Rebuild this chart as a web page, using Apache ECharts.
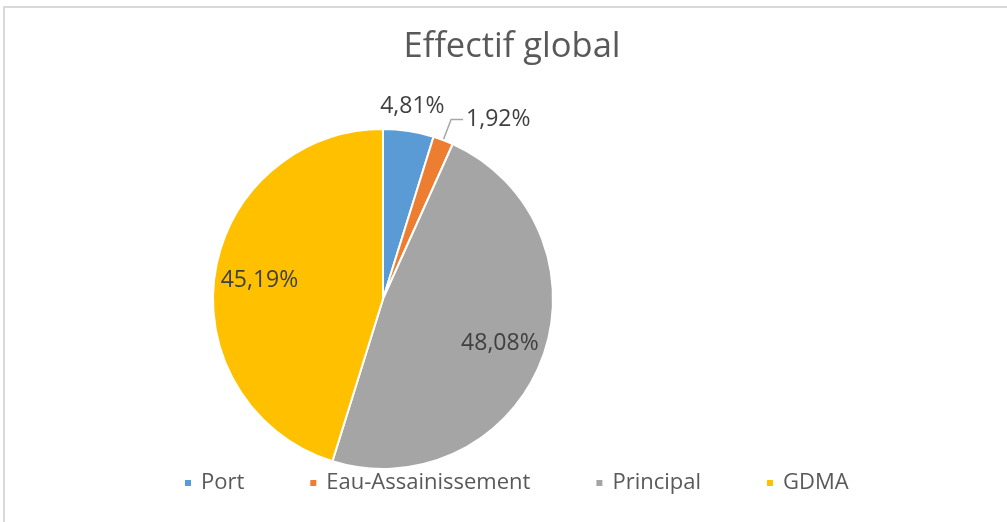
<!DOCTYPE html>
<html>
<head>
<meta charset="utf-8">
<script src="https://cdn.jsdelivr.net/npm/echarts@6/dist/echarts.min.js"></script>
<style>
  html, body { margin: 0; padding: 0; background: #ffffff; }
  #frame { position: absolute; left: 3px; top: 6px; width: 1004px; height: 516px;
           border-top: 2px solid #d9d9d9; border-left: 2px solid #d9d9d9; box-sizing: border-box; }
  #chart { position: absolute; left: 0; top: 0; width: 1007px; height: 522px; }
</style>
</head>
<body>
<div id="frame"></div>
<div id="chart"></div>
<script>
const titleText = 'Effectif global';
const categories = ['Port', 'Eau-Assainissement', 'Principal', 'GDMA'];
const counts = [5, 2, 50, 47];
const colors = ['#5B9BD5', '#ED7D31', '#A5A5A5', '#FFC000'];

const FONT = 'Open Sans';
const fmt = p => p.percent.toFixed(2).replace('.', ',') + '%';

const center = [383, 299];
const R = 170;

const mainData = categories.map((name, i) => ({
  name, value: counts[i],
  itemStyle: { color: colors[i] },
  label: { show: i === 1 },
  labelLine: { show: i === 1 }
}));
const outerGhost = categories.map((name, i) => ({
  name, value: counts[i], label: { show: i === 0 }
}));
const innerGhost = categories.map((name, i) => ({
  name, value: counts[i], label: { show: i >= 2 }
}));

const labelStyle = { fontFamily: FONT, fontSize: 23, color: '#404040', formatter: fmt };

const chart = echarts.init(document.getElementById('chart'), null, { renderer: 'canvas' });
chart.setOption({
  animation: false,
  backgroundColor: 'transparent',
  title: {
    text: titleText, left: 507, top: 25, textAlign: 'center',
    textStyle: { fontFamily: FONT, fontSize: 34.5, fontWeight: 'normal', color: '#595959' }
  },
  legend: {
    data: categories, left: 178, top: 467, icon: 'rect', itemWidth: 8, itemHeight: 8,
    itemGap: 64, selectedMode: false,
    textStyle: { fontFamily: FONT, fontSize: 22, color: '#595959', padding: [0, 0, 0, 4] }
  },
  series: [
    {
      type: 'pie', center, radius: [0, R], startAngle: 90, clockwise: true,
      avoidLabelOverlap: false, silent: true,
      itemStyle: { borderColor: '#ffffff', borderWidth: 2 },
      label: Object.assign({ position: 'outside', distanceToLabelLine: 3 }, labelStyle),
      labelLine: { length: 22, length2: 12, lineStyle: { color: '#A6A6A6', width: 1.5 } },
      emphasis: { disabled: true },
      data: mainData
    },
    {
      type: 'pie', center, radius: [R, R + 44], startAngle: 90, clockwise: true,
      avoidLabelOverlap: false, silent: true,
      itemStyle: { color: 'transparent' },
      label: Object.assign({ position: 'inside' }, labelStyle),
      labelLine: { show: false },
      emphasis: { disabled: true },
      data: outerGhost
    },
    {
      type: 'pie', center, radius: [74, R], startAngle: 90, clockwise: true,
      avoidLabelOverlap: false, silent: true,
      itemStyle: { color: 'transparent' },
      label: Object.assign({ position: 'inside' }, labelStyle),
      labelLine: { show: false },
      emphasis: { disabled: true },
      data: innerGhost
    }
  ]
});
</script>
</body>
</html>
